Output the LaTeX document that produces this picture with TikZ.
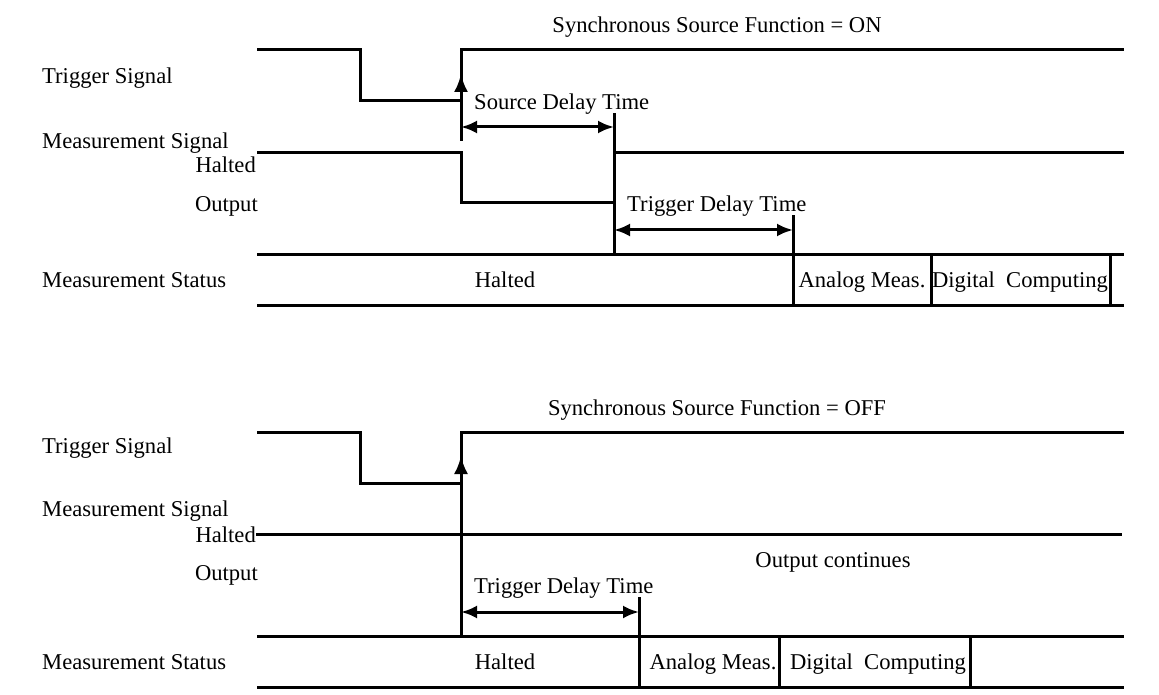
\documentclass[tikz,border=0pt]{standalone}
\usepackage{fontspec}
\setmainfont{Liberation Serif}
\usetikzlibrary{arrows.meta}
\begin{document}
\begin{tikzpicture}[x=1pt,y=-1pt,
  sig/.style={line width=3pt,line cap=rect,line join=miter},
  lbl/.style={inner sep=0pt,text height=0.7em,text depth=0.22em,font=\fontsize{22.6}{27}\selectfont,yshift=-5pt},
  dim/.style={line width=3pt,{Latex[length=16pt,width=13pt]}-{Latex[length=16pt,width=13pt]}},
  uparr/.style={line width=3pt,-{Latex[length=18pt,width=14pt]}}]
\useasboundingbox (0,0) rectangle (1159,695);
% ---------------- Top panel ----------------
\node[lbl] (t1) at (717,25) {Synchronous Source Function = ON};
\node[lbl,anchor=west] (ts1) at (42,76) {Trigger Signal};
\node[lbl,anchor=west] (ms1) at (42,141) {Measurement Signal};
\node[lbl,anchor=east] (h1) at (256,165) {Halted};
\node[lbl,anchor=east] (o1) at (258,204) {Output};
\node[lbl,anchor=west] (mst1) at (42,280) {Measurement Status};
\node[lbl,anchor=west] (sdt1) at (474,102) {Source Delay Time};
\node[lbl,anchor=west] (tdt1) at (627,204) {Trigger Delay Time};
\node[lbl] (hs1) at (505,280) {Halted};
\node[lbl] (am1) at (862,280) {Analog Meas.};
\node[lbl] (dc1) at (1020,280) {Digital\ \ Computing};

\coordinate (a0) at (258,50);
\coordinate (a1) at (360,50);
\coordinate (a2) at (360,101);
\coordinate (a3) at (461,101);
\coordinate (a4) at (461,50);
\coordinate (a5) at (1122,50);
\coordinate (a6) at (461,140);
\coordinate (aar) at (461,74);
\draw[sig] (a0) -- (a1) -- (a2) -- (a3) -- (a4) -- (a5);
\draw[sig] (a3) -- (a6);
\draw[uparr] (a3) -- (aar);

\coordinate (b0) at (258,153);
\coordinate (b1) at (461,153);
\coordinate (b2) at (461,203);
\coordinate (b3) at (614,203);
\coordinate (b4) at (614,153);
\coordinate (b5) at (1122,153);
\draw[sig] (b0) -- (b1) -- (b2) -- (b3) -- (b4) -- (b5);

\coordinate (d1a) at (461,127);
\coordinate (d1b) at (614,127);
\coordinate (v1t) at (614,115);
\coordinate (v1b) at (614,254);
\draw[sig] (v1t) -- (v1b);
\draw[dim] (d1a) -- (d1b);

\coordinate (d2a) at (614,230);
\coordinate (d2b) at (793,230);
\coordinate (v2t) at (793,217);
\coordinate (v2b) at (793,305);
\draw[sig] (v2t) -- (v2b);
\draw[dim] (d2a) -- (d2b);

\coordinate (s0) at (258,254);
\coordinate (s1) at (1122,254);
\coordinate (s2) at (258,305);
\coordinate (s3) at (1122,305);
\draw[sig] (s0) -- (s1);
\draw[sig] (s2) -- (s3);
\coordinate (p1t) at (931,254);
\coordinate (p1b) at (931,305);
\coordinate (p2t) at (1110,254);
\coordinate (p2b) at (1110,305);
\draw[sig] (p1t) -- (p1b);
\draw[sig] (p2t) -- (p2b);

% ---------------- Bottom panel ----------------
\node[lbl] (t2) at (717,408) {Synchronous Source Function = OFF};
\node[lbl,anchor=west] (ts2) at (42,446) {Trigger Signal};
\node[lbl,anchor=west] (ms2) at (42,509) {Measurement Signal};
\node[lbl,anchor=east] (h2) at (256,535) {Halted};
\node[lbl,anchor=east] (o2) at (258,573) {Output};
\node[lbl,anchor=west] (mst2) at (42,662) {Measurement Status};
\node[lbl] (oc2) at (833,560) {Output continues};
\node[lbl,anchor=west] (tdt2) at (474,586) {Trigger Delay Time};
\node[lbl] (hs2) at (505,662) {Halted};
\node[lbl] (am2) at (713,662) {Analog Meas.};
\node[lbl] (dc2) at (878,662) {Digital\ \ Computing};

\coordinate (c0) at (258,432);
\coordinate (c1) at (360,432);
\coordinate (c2) at (360,483);
\coordinate (c3) at (461,483);
\coordinate (c4) at (461,432);
\coordinate (c5) at (1122,432);
\coordinate (c6) at (461,636);
\coordinate (car) at (461,456);
\draw[sig] (c0) -- (c1) -- (c2) -- (c3) -- (c4) -- (c5);
\draw[sig] (c3) -- (c6);
\draw[uparr] (c3) -- (car);

\coordinate (e1) at (1122,534);
\coordinate (e0) at (h2.east |- e1);
\draw[sig,line cap=butt] (e0) -- (e1);

\coordinate (f1a) at (461,612);
\coordinate (f1b) at (639,612);
\coordinate (w1t) at (639,598);
\coordinate (w1b) at (639,687);
\draw[sig] (w1t) -- (w1b);
\draw[dim] (f1a) -- (f1b);

\coordinate (r0) at (258,636);
\coordinate (r1) at (1122,636);
\coordinate (r2) at (258,687);
\coordinate (r3) at (1122,687);
\draw[sig] (r0) -- (r1);
\draw[sig] (r2) -- (r3);
\coordinate (q1t) at (779,636);
\coordinate (q1b) at (779,687);
\coordinate (q2t) at (970,636);
\coordinate (q2b) at (970,687);
\draw[sig] (q1t) -- (q1b);
\draw[sig] (q2t) -- (q2b);
\end{tikzpicture}
\end{document}
